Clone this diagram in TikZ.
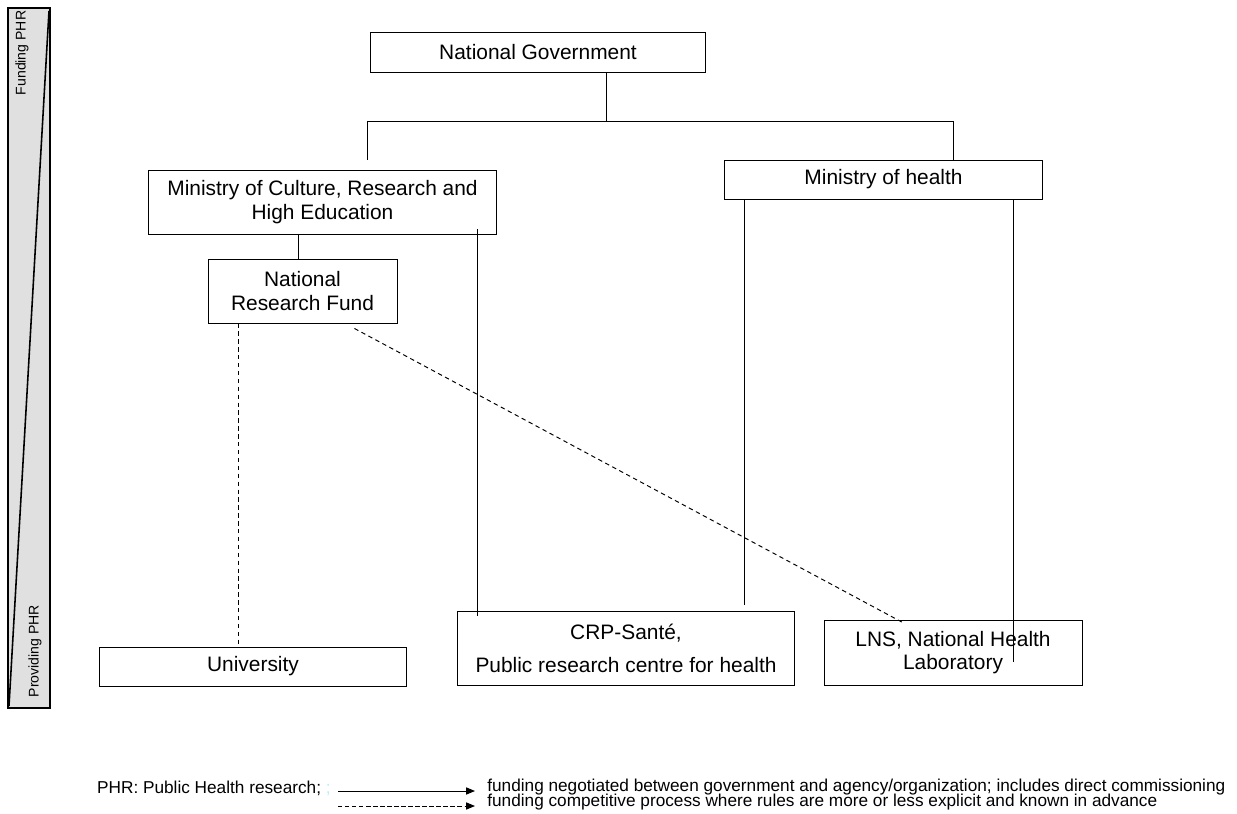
\documentclass[tikz,border=0pt]{standalone}
\usepackage{fontspec}
\setmainfont{Liberation Sans}
\usetikzlibrary{arrows.meta,calc}

\begin{document}
\begin{tikzpicture}[
    x=0.02cm, y=-0.02cm,
    box/.style={draw, line width=0.55pt, align=center, inner sep=1pt, font=\fontsize{11.9}{13.5}\selectfont},
    link/.style={line width=0.55pt},
    fund/.style={line width=0.55pt, dash pattern=on 2.5pt off 2pt},
    arrow/.style={-{Triangle[length=5pt,width=4pt]}, line width=0.55pt},
    note/.style={anchor=west, inner sep=0pt, font=\fontsize{9.8}{10}\selectfont},
    side/.style={rotate=90, inner sep=0pt, font=\fontsize{8}{9}\selectfont}
  ]
  \useasboundingbox (0,0) rectangle (1237,814);

  % Funding / providing bar
  \draw[fill=black!12, line width=0.6pt] (8,8) rectangle (50,708);
  \draw[line width=0.9pt] (9,706) -- (49,11);
  \node[side] (fundlbl) at (22,53) {Funding PHR};
  \node[side] (provlbl) at (35,651) {Providing PHR};

  % Government and ministries
  \node[box, minimum width=6.72cm, minimum height=0.8cm] (gov) at (538,52) {National Government};
  \node[box, minimum width=6.98cm, minimum height=1.28cm] (mcr) at (322.5,202) {Ministry of Culture, Research and\\High Education};
  \node[box, minimum width=6.38cm, minimum height=0.78cm] (moh) at (883.5,179.5) {Ministry of health};

  % Fund
  \node[box, minimum width=3.78cm, minimum height=1.28cm] (nrf) at (302.5,291) {National\\Research Fund};

  % Research providers
  \node[box, minimum width=6.16cm, minimum height=0.78cm] (uni) at (253,666.5) {University};
  \node[box, minimum width=6.76cm, minimum height=1.48cm] (crp) at (626,648.5) {CRP-Santé,\\[5pt]Public research centre for health};
  \node[box, minimum width=5.16cm, minimum height=1.3cm] (lns) at (953,652.5) {LNS, National Health\\Laboratory};

  % Tree below the government
  \coordinate (split) at (606,121);
  \coordinate (lbend) at (367,121);
  \coordinate (rbend) at (953,121);
  \draw[link] (split |- gov.south) -- (split);
  \draw[link] (lbend) -- (rbend);
  \draw[link, shorten >=0.2cm] (lbend) -- (lbend |- mcr.north);
  \draw[link] (rbend) -- (rbend |- moh.north);

  % Negotiated funding
  \coordinate (nrftop) at ($(nrf.north)+(-4,0)$);
  \draw[link] (nrftop |- mcr.south) -- (nrftop);
  \coordinate (mcrdrop) at ($(mcr.south)+(155,-5)$);
  \draw[link] (mcrdrop) -- ($(mcrdrop |- crp.north)+(0,5)$);
  \coordinate (mohleft) at ($(moh.south)+(-139,0)$);
  \draw[link, shorten >=0.12cm] (mohleft) -- (mohleft |- crp.north);
  \coordinate (mohright) at ($(moh.south)+(130,0)$);
  \draw[link] (mohright) -- ($(mohright |- lns.north)+(0,42)$);

  % Competitive funding
  \coordinate (nrfdrop) at ($(nrf.south)+(-64,0)$);
  \draw[fund] (nrfdrop) -- (nrfdrop |- uni.north);
  \draw[fund] ($(nrf.south east)+(-43,5)$) -- ($(lns.north west)+(81,4)$);

  % Legend
  \node[note, anchor=east] (abbr) at (331,788) {PHR: Public Health research; \textcolor{cyan!25}{;}};
  \coordinate (solidstart) at (338,791);
  \coordinate (solidend) at (475,791);
  \coordinate (dashstart) at (338,806);
  \coordinate (dashend) at (475,806);
  \draw[arrow] (solidstart) -- (solidend);
  \draw[arrow, dash pattern=on 2.5pt off 1.5pt] (dashstart) -- (dashend);
  \node[note] (negnote) at (487,787) {funding negotiated between government and agency/organization; includes direct commissioning};
  \node[note] (compnote) at (487,802) {funding competitive process where rules are more or less explicit and known in advance};
\end{tikzpicture}
\end{document}
